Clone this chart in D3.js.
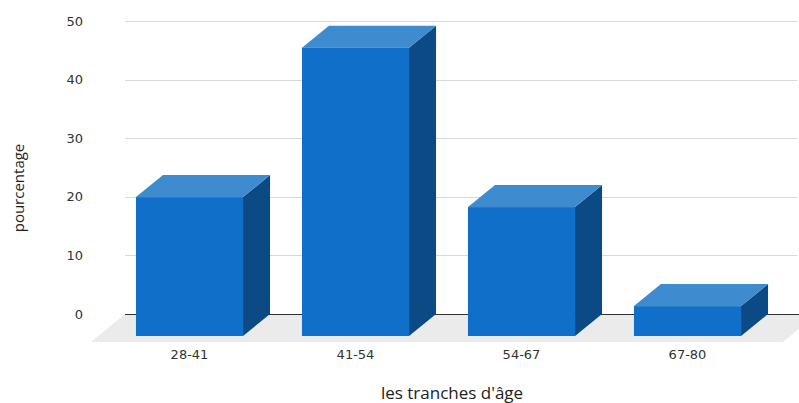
<!DOCTYPE html>
<html>
<head>
<meta charset="utf-8">
<script src="https://cdn.jsdelivr.net/npm/d3@7"></script>
<style>
  html, body { margin: 0; padding: 0; background: #fff; }
  svg { display: block; }
</style>
</head>
<body>
<svg id="chart" width="799" height="403"></svg>
<script>
// Age groups and their share of respondents (%)
const categories = ["28-41", "41-54", "54-67", "67-80"];
const values = [23.7, 49.2, 22.0, 5.1];
const yTicks = [0, 10, 20, 30, 40, 50];
const xTitle = "les tranches d'âge";
const yTitle = "pourcentage";

const W = 799, H = 403;
const svg = d3.select("#chart");

// back plane (where gridlines live)
const plotLeft = 125, plotRight = 797;
const y = d3.scaleLinear().domain([0, 50]).range([314, 21]);
const x = d3.scaleBand().domain(categories)
  .range([133.5, 797.5]).paddingInner(0.355).paddingOuter(0.1775);

// oblique depth offsets (front = back + offset)
const barDX = -27, barDY = 22;
const floorDX = -34, floorDY = 28;

const colFront = "#106fc8", colTop = "#3f8bd0", colSide = "#0b4a85";

// floor
const y0 = y(0);
svg.append("path")
  .attr("d", d3.line()([
    [plotLeft, y0], [plotRight + 20, y0],
    [plotRight + 20 + floorDX, y0 + floorDY], [plotLeft + floorDX, y0 + floorDY]
  ]))
  .attr("fill", "#ebebeb");

// gridlines
svg.append("g").selectAll("line")
  .data(yTicks.filter(d => d !== 0)).join("line")
  .attr("x1", plotLeft).attr("x2", plotRight)
  .attr("y1", d => Math.round(y(d)) + 0.5).attr("y2", d => Math.round(y(d)) + 0.5)
  .attr("stroke", "#d9d9d9").attr("stroke-width", 1);

// zero line
svg.append("line")
  .attr("x1", plotLeft).attr("x2", W)
  .attr("y1", Math.round(y0) + 0.5).attr("y2", Math.round(y0) + 0.5)
  .attr("stroke", "#333").attr("stroke-width", 1);

// y tick labels
svg.append("g").selectAll("text")
  .data(yTicks).join("text")
  .attr("x", 83).attr("y", d => y(d))
  .attr("dy", "0.35em")
  .attr("text-anchor", "end")
  .attr("font-family", "DejaVu Sans, sans-serif")
  .attr("font-size", 13)
  .attr("fill", "#333")
  .text(d => d);

// 3D bars
const bars = svg.append("g").selectAll("g")
  .data(categories.map((c, i) => ({ c, v: values[i] }))).join("g");

const line = d3.line();
bars.each(function(d) {
  const g = d3.select(this);
  const bx = x(d.c), w = x.bandwidth();
  const top = y(d.v);
  const fx = bx + barDX, fyTop = top + barDY, fyBot = y0 + barDY;
  // side face
  g.append("path")
    .attr("d", line([[fx + w, fyTop], [bx + w, top], [bx + w, y0], [fx + w, fyBot]]) + "Z")
    .attr("fill", colSide);
  // top face
  g.append("path")
    .attr("d", line([[fx, fyTop], [fx + w, fyTop], [bx + w, top], [bx, top]]) + "Z")
    .attr("fill", colTop);
  // front face
  g.append("rect")
    .attr("x", fx).attr("y", fyTop)
    .attr("width", w).attr("height", fyBot - fyTop)
    .attr("fill", colFront);
});

// x category labels
svg.append("g").selectAll("text")
  .data(categories).join("text")
  .attr("x", d => x(d) + barDX + x.bandwidth() / 2)
  .attr("y", 359)
  .attr("text-anchor", "middle")
  .attr("font-family", "DejaVu Sans, sans-serif")
  .attr("font-size", 13)
  .attr("fill", "#333")
  .text(d => d);

// axis titles
svg.append("text")
  .attr("x", 452).attr("y", 399)
  .attr("text-anchor", "middle")
  .attr("font-family", "Open Sans, sans-serif")
  .attr("font-size", 17)
  .attr("fill", "#222")
  .text(xTitle);

svg.append("text")
  .attr("transform", "translate(24,188) rotate(-90)")
  .attr("text-anchor", "middle")
  .attr("font-family", "Open Sans, sans-serif")
  .attr("font-size", 15)
  .attr("fill", "#222")
  .text(yTitle);
</script>
</body>
</html>
